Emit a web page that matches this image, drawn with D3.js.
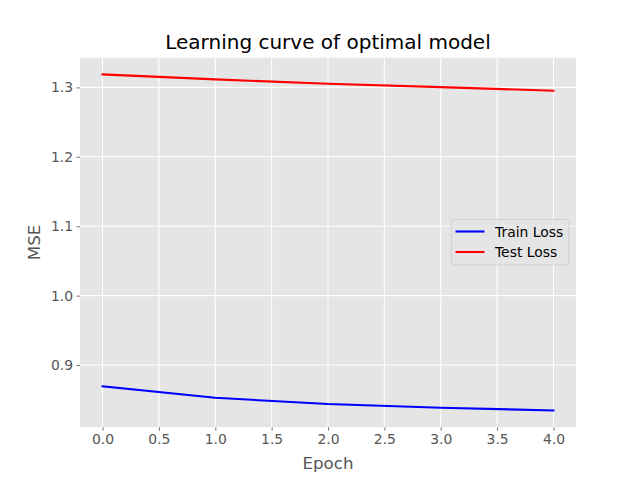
<!DOCTYPE html>
<html><head><meta charset="utf-8">
<script src="https://cdn.jsdelivr.net/npm/d3@7"></script>
<style>body{margin:0;background:#fff}text{font-family:"DejaVu Sans",sans-serif}</style>
</head><body><svg id="c" width="640" height="480"></svg>
<script>
const epochs = [0, 1, 2, 3, 4];
const trainLoss = [0.8693, 0.8529, 0.8438, 0.8385, 0.8347];
const testLoss = [1.3187, 1.3115, 1.3052, 1.3004, 1.2951];
const xTicks = [0, 0.5, 1, 1.5, 2, 2.5, 3, 3.5, 4];
const yTicks = [0.9, 1.0, 1.1, 1.2, 1.3];
const seriesNames = ["Train Loss", "Test Loss"];
const seriesColors = ["#0000ff", "#ff0000"];

const svg = d3.select("#c");
const L = 80, R = 576, T = 57.6, B = 427.2;
const all = trainLoss.concat(testLoss);
const ymin = d3.min(all), ymax = d3.max(all), pad = (ymax - ymin) * 0.05;
const x = d3.scaleLinear().domain([-0.2, 4.2]).range([L, R]);
const y = d3.scaleLinear().domain([ymin - pad, ymax + pad]).range([B, T]);

svg.append("rect").attr("x", L).attr("y", T).attr("width", R - L).attr("height", B - T).attr("fill", "#e5e5e5");

const gx = svg.append("g").attr("transform", `translate(0,${B})`)
  .call(d3.axisBottom(x).tickValues(xTicks).tickFormat(d3.format(".1f")).tickSize(3.5).tickPadding(3.5));
const gy = svg.append("g").attr("transform", `translate(${L},0)`)
  .call(d3.axisLeft(y).tickValues(yTicks).tickFormat(d3.format(".1f")).tickSize(3.5).tickPadding(3.5));
[gx, gy].forEach(g => {
  g.select(".domain").remove();
  g.selectAll(".tick line").attr("stroke", "#555555").attr("stroke-width", 0.8);
  g.selectAll(".tick text").attr("fill", "#555555").style("font-size", "13.9px").style("font-family", "DejaVu Sans");
});
// grid
svg.append("g").selectAll("line").data(xTicks).join("line")
  .attr("x1", d => x(d)).attr("x2", d => x(d)).attr("y1", T).attr("y2", B)
  .attr("stroke", "#fff").attr("stroke-width", 1.1);
svg.append("g").selectAll("line").data(yTicks).join("line")
  .attr("y1", d => y(d)).attr("y2", d => y(d)).attr("x1", L).attr("x2", R)
  .attr("stroke", "#fff").attr("stroke-width", 1.1);

const line = d3.line().x((d, i) => x(epochs[i])).y(d => y(d));
[trainLoss, testLoss].forEach((s, i) => {
  svg.append("path").datum(s).attr("d", line).attr("fill", "none")
    .attr("stroke", seriesColors[i]).attr("stroke-width", 2.08).attr("stroke-linecap", "square");
});

svg.append("text").attr("x", (L + R) / 2).attr("y", 49.3).attr("text-anchor", "middle")
  .style("font-size", "20px").attr("fill", "#000").text("Learning curve of optimal model");
svg.append("text").attr("x", (L + R) / 2).attr("y", 469).attr("text-anchor", "middle")
  .style("font-size", "16.7px").attr("fill", "#555555").text("Epoch");
svg.append("text").attr("transform", `translate(39.5,${(T + B) / 2}) rotate(-90)`).attr("text-anchor", "middle")
  .style("font-size", "16.7px").attr("fill", "#555555").text("MSE");

// legend
const lg = svg.append("g");
lg.append("rect").attr("x", 451.5).attr("y", 219.5).attr("width", 117.5).attr("height", 45.5).attr("rx", 2)
  .attr("fill", "#e5e5e5").attr("fill-opacity", 0.8).attr("stroke", "#cccccc").attr("stroke-opacity", 0.8).attr("stroke-width", 1);
seriesNames.forEach((n, i) => {
  const yy = 231.5 + i * 20.5;
  lg.append("line").attr("x1", 455.5).attr("x2", 484.5).attr("y1", yy).attr("y2", yy)
    .attr("stroke", seriesColors[i]).attr("stroke-width", 2.08);
  lg.append("text").attr("x", 495).attr("y", yy + 5).style("font-size", "13.9px").attr("fill", "#000").text(n);
});
</script></body></html>
